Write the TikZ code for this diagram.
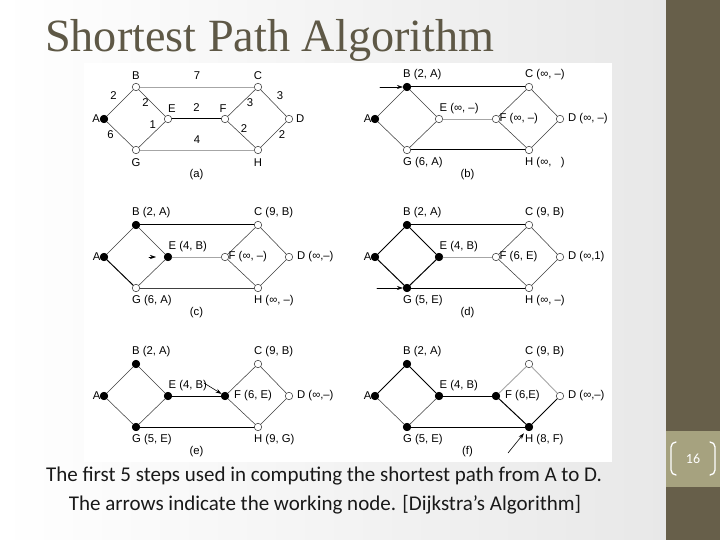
\documentclass[tikz,border=0pt]{standalone}
\usepackage{fontspec}
\setmainfont{Liberation Serif}
\newfontfamily\figfont{Liberation Sans}
\newfontfamily\capfont{Carlito}
\usetikzlibrary{arrows.meta, calc, positioning}
\definecolor{slidebar}{HTML}{675F4A}
\definecolor{pagebox}{HTML}{A6A27F}
\definecolor{titlegray}{HTML}{5E5846}

% the eight vertices of one panel, #1 = vertices already settled
\newcommand{\gnodes}[1]{%
  \foreach \n/\x/\y in {A/0/0,B/32/-32,C/154/-32,D/185/0,E/64/0,F/121/0,G/32/31,H/154/31}
    \node[vtx] (\n) at (\x,\y) {};
  \foreach \n in {#1} \node[vtxf] at (\n) {};}
% labels (distance, predecessor) of one panel
\newcommand{\glabels}[8]{%
  \node[lbl, anchor=east] (lA) at ($(A)+(-3.5,0)$) {A};
  \node[lbl, anchor=west] (lB) at ($(B)+(-4,-12.5)$) {#1};
  \node[lbl, anchor=west] (lC) at ($(C)+(-4,-12.5)$) {#2};
  \node[lbl, anchor=west] (lE) at ($(E)+(0.5,-10.5)$) {#3};
  \node[lbl, anchor=west] (lF) at ($(F)+(#8,0)$) {#4};
  \node[lbl, anchor=west] (lD) at ($(D)+(8,0)$) {#5};
  \node[lbl, anchor=west] (lG) at ($(G)+(-4,12.5)$) {#6};
  \node[lbl, anchor=west] (lH) at ($(H)+(-4,12.5)$) {#7};}

\begin{document}
\begin{tikzpicture}[x=1pt, y=-1pt, line cap=round, line join=round,
  vtx/.style={circle, draw=black!70, fill=white, line width=.6pt, inner sep=0pt, minimum size=7.5pt},
  vtxf/.style={vtx, draw=black, fill=black},
  ln/.style={black!75, line width=.55pt},
  lnk/.style={black, line width=1pt},
  lng/.style={black!35, line width=.9pt},
  lbl/.style={font=\figfont\fontsize{11.3}{13}\selectfont, text=black, inner sep=0pt},
  wt/.style={lbl, inner sep=1pt},
  ptr/.style={-{Stealth[length=6pt, width=4pt]}, line width=.6pt},
  title/.style={font=\fontsize{46.2}{50}\selectfont, text=titlegray, inner sep=0pt},
  capt/.style={font=\capfont\fontsize{21}{25}\selectfont, text=black!90, inner sep=0pt},
  pgno/.style={font=\capfont\fontsize{14}{16}\selectfont, text=white, inner sep=0pt}]
\useasboundingbox (0,0) rectangle (720,540);

% slide
\shade[left color=white, right color=black!9] (0,0) rectangle (666,540);
\fill[white] (84,63) rectangle (612,462);
\fill[slidebar] (666,0) rectangle (720,540);
\fill[pagebox] (666,431) rectangle (720,487);
\draw[white, line width=1.3pt] (676,442) to[out=180, in=90] (671,447) -- (671,470) to[out=-90, in=180] (676,475);
\draw[white, line width=1.3pt] (710,442) to[out=0, in=90] (715,447) -- (715,470) to[out=-90, in=0] (710,475);
\node[pgno] (pgno) at (693,459) {16};
\node[title, anchor=base west] (title) at (45,52) {Shortest Path Algorithm};

% (a) the graph with its weights
\begin{scope}[shift={(104,119)}]
  \gnodes{A}
  \draw[ln] (A) -- node[wt, above left=3pt] {2} (B);
  \draw[ln] (A) -- node[wt, left=5pt] {6} (G);
  \draw[ln] (B) -- node[wt, left=2pt] {2} (E);
  \draw[ln] (E) -- node[wt, pos=.3, above left=0pt] {1} (G);
  \draw[lng] (B) -- node[wt, above=6pt] {7} (C);
  \draw[lnk] (E) -- node[wt, above=6pt] {2} (F);
  \draw[ln] (F) -- node[wt, right=4pt] {3} (C);
  \draw[ln] (C) -- node[wt, above right=3pt] {3} (D);
  \draw[ln] (F) -- node[wt, pos=.28, right=4pt] {2} (H);
  \draw[ln] (D) -- node[wt, right=4pt] {2} (H);
  \draw[lng] (G) -- node[wt, above=5pt] {4} (H);
  \node[lbl, anchor=east] (lA) at ($(A)+(-4,0)$) {A};
  \node[lbl] (lB) at ($(B)+(0,-11)$) {B};
  \node[lbl] (lC) at ($(C)+(0,-11)$) {C};
  \node[lbl] (lE) at ($(E)+(4,-10.5)$) {E};
  \node[lbl] (lF) at ($(F)+(-2,-10.5)$) {F};
  \node[lbl, anchor=west] (lD) at ($(D)+(7,0)$) {D};
  \node[lbl] (lG) at ($(G)+(0,13)$) {G};
  \node[lbl] (lH) at ($(H)+(0,13)$) {H};
  \node[lbl] (capa) at (92.5,56) {(a)};
\end{scope}

% (b)
\begin{scope}[shift={(375,119)}]
  \gnodes{A,B}
  \draw[ln] (A) -- (B);
  \draw[ln] (A) -- (G);
  \draw[ln] (B) -- (E);
  \draw[ln] (E) -- (G);
  \draw[lnk] (B) -- (C);
  \draw[lng] (E) -- (F);
  \draw[ln] (F) -- (C);
  \draw[ln] (C) -- (D);
  \draw[ln] (F) -- (H);
  \draw[ln] (D) -- (H);
  \draw[lnk] (G) -- (H);
  \glabels{B (2, A)}{C (∞, –)}{E (∞, –)}{F (∞, –)}{D (∞, –)}{G (6, A)}{H (∞,\hphantom{ –})}{3.5}
  \coordinate (pb) at ($(B)+(-27,0)$);
  \draw[ptr] (pb) -- (B);
  \node[lbl] (capb) at (92.5,56) {(b)};
\end{scope}

% (c)
\begin{scope}[shift={(104,257)}]
  \gnodes{A,B,E}
  \draw[ln] (A) -- (B);
  \draw[lnk] (A) -- (G);
  \draw[ln] (B) -- (E);
  \draw[ln] (E) -- (G);
  \draw[lnk] (B) -- (C);
  \draw[lng] (E) -- (F);
  \draw[ln] (F) -- (C);
  \draw[ln] (C) -- (D);
  \draw[ln] (F) -- (H);
  \draw[ln] (D) -- (H);
  \draw[ln] (G) -- (H);
  \glabels{B (2, A)}{C (9, B)}{E (4, B)}{F (∞, –)}{D (∞,–)}{G (6, A)}{H (∞, –)}{3.5}
  \coordinate (pc) at ($(E)+(-19,0)$);
  \coordinate (qc) at ($(E)+(-12,0)$);
  \draw[ptr] (pc) -- (qc);
  \node[lbl] (capc) at (92.5,56) {(c)};
\end{scope}

% (d)
\begin{scope}[shift={(375,257)}]
  \gnodes{A,B,E,G}
  \draw[lnk] (A) -- (B);
  \draw[lnk] (A) -- (G);
  \draw[lnk] (B) -- (E);
  \draw[lnk] (E) -- (G);
  \draw[lnk] (B) -- (C);
  \draw[lng] (E) -- (F);
  \draw[ln] (F) -- (C);
  \draw[ln] (C) -- (D);
  \draw[ln] (F) -- (H);
  \draw[ln] (D) -- (H);
  \draw[lnk] (G) -- (H);
  \glabels{B (2, A)}{C (9, B)}{E (4, B)}{F (6, E)}{D (∞,1)}{G (5, E)}{H (∞, –)}{3.5}
  \coordinate (pd) at ($(G)+(-30,0)$);
  \draw[ptr] (pd) -- (G);
  \node[lbl] (capd) at (92.5,56) {(d)};
\end{scope}

% (e)
\begin{scope}[shift={(104,396)}]
  \gnodes{A,B,E,G,F}
  \draw[ln] (A) -- (B);
  \draw[ln] (A) -- (G);
  \draw[ln] (B) -- (E);
  \draw[ln] (E) -- (G);
  \draw[lnk] (E) -- (F);
  \draw[ln] (F) -- (C);
  \draw[ln] (C) -- (D);
  \draw[ln] (F) -- (H);
  \draw[ln] (D) -- (H);
  \draw[lnk] (G) -- (H);
  \glabels{B (2, A)}{C (9, B)}{E (4, B)}{F (6, E)}{D (∞,–)}{G (5, E)}{H (9, G)}{9}
  \coordinate (pe) at ($(F)+(-21,-13)$);
  \draw[ptr] (pe) -- (F);
  \node[lbl] (cape) at (92.5,56) {(e)};
\end{scope}

% (f)
\begin{scope}[shift={(375,396)}]
  \gnodes{A,B,E,G,F,H}
  \draw[lnk] (A) -- (B);
  \draw[ln] (A) -- (G);
  \draw[lnk] (B) -- (E);
  \draw[ln] (E) -- (G);
  \draw[lnk] (E) -- (F);
  \draw[lng] (F) -- (C);
  \draw[lng] (C) -- (D);
  \draw[lnk] (F) -- (H);
  \draw[lnk] (D) -- (H);
  \draw[lnk] (G) -- (H);
  \glabels{B (2, A)}{C (9, B)}{E (4, B)}{F (6,E)}{D (∞,–)}{G (5, E)}{H (8, F)}{9}
  \coordinate (pf) at ($(H)+(-21,26)$);
  \draw[ptr, shorten >=4pt] (pf) -- (H);
  \node[lbl] (capf) at (92.5,56) {(f)};
\end{scope}

% caption
\node[capt, anchor=base] (cap1) at (324,481) {The first 5 steps used in computing the shortest path from A to D.};
\node[capt, anchor=base] (cap2) at (325,510) {The arrows indicate the working node. [Dijkstra’s Algorithm]};
\end{tikzpicture}
\end{document}
